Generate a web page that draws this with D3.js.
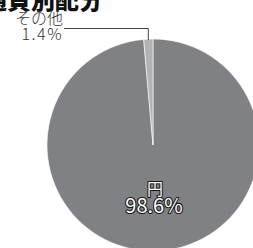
<!DOCTYPE html>
<html><head><meta charset="utf-8">
<script src="https://cdn.jsdelivr.net/npm/d3@7"></script>
<style>body{margin:0;background:#fff;overflow:hidden}svg{display:block}</style>
</head><body>
<script>
const title = "通貨別配分";
const categories = ["円", "その他"];
const values = [98.6, 1.4];
const colors = ["#808184", "#b2b3b5"];

const W = 253, H = 248;
const svg = d3.select("body").append("svg").attr("width", W).attr("height", H);
const cx = 153, cy = 145, r = 106;
const font = "'Noto Sans CJK JP', 'Noto Sans', sans-serif";

svg.append("text").attr("x", -17).attr("y", 8.5)
  .attr("font-family", font).attr("font-weight", 900).attr("font-size", 24)
  .attr("fill", "#111").text(title);

const pie = d3.pie().sort(null).value(d => d)(values);
const arc = d3.arc().innerRadius(0).outerRadius(r);
const g = svg.append("g").attr("transform", `translate(${cx},${cy})`);
g.selectAll("path").data(pie).join("path")
  .attr("d", arc).attr("fill", (d, i) => colors[i])
  .attr("stroke", "#fff").attr("stroke-width", 0.6);

// outside label for その他
const small = pie[1];
const mid = (small.startAngle + small.endAngle) / 2;
const px = cx + Math.sin(mid) * r, py = cy - Math.cos(mid) * r;
svg.append("path")
  .attr("d", `M64,28.5H${px.toFixed(1)}V${py + 1}`)
  .attr("fill", "none").attr("stroke", "#444").attr("stroke-width", 1);
svg.append("text").attr("x", 63).attr("y", 24).attr("text-anchor", "end")
  .attr("font-family", font).attr("font-weight", 300).attr("font-size", 16)
  .attr("fill", "#333").text(categories[1]);
svg.append("text").attr("x", 63).attr("y", 39.5).attr("text-anchor", "end")
  .attr("font-family", font).attr("font-weight", 300).attr("font-size", 16)
  .attr("letter-spacing", 1.5)
  .attr("fill", "#333").text(d3.format(".1f")(values[1]) + "%");

// inside label for 円
const lab = svg.append("g").attr("font-family", font).attr("text-anchor", "middle")
  .attr("fill", "#fff").attr("stroke", "#1a1a1a").attr("stroke-width", 2.2)
  .attr("stroke-linejoin", "round").attr("paint-order", "stroke");
lab.append("text").attr("x", 155).attr("y", 195).attr("font-size", 16).attr("font-weight", 400)
  .text(categories[0]);
lab.append("text").attr("x", 154).attr("y", 213).attr("font-size", 20).attr("font-weight", 400)
  .text(d3.format(".1f")(values[0]) + "%");
</script>
</body></html>
